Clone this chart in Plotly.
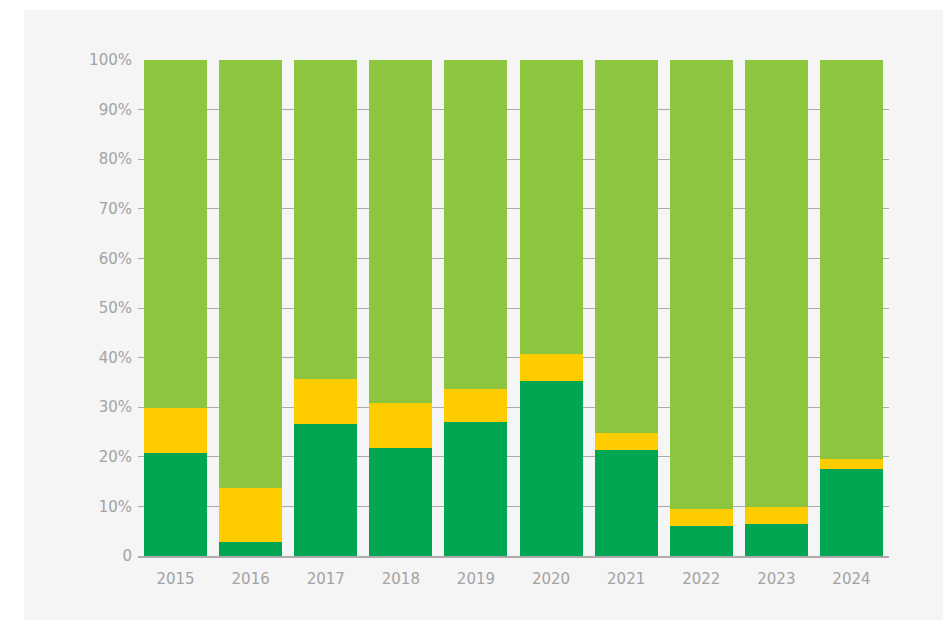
import plotly.graph_objects as go

# Share of each category per year (percent of total)
years = ["2015", "2016", "2017", "2018", "2019", "2020", "2021", "2022", "2023", "2024"]
dark_green = [20.8, 2.8, 26.7, 21.8, 27.0, 35.3, 21.4, 6.0, 6.5, 17.5]
yellow = [9.0, 11.0, 9.0, 9.0, 6.7, 5.4, 3.4, 3.5, 3.4, 2.1]
light_green = [round(100 - d - y, 1) for d, y in zip(dark_green, yellow)]

y_ticks = [0, 10, 20, 30, 40, 50, 60, 70, 80, 90, 100]
y_tick_labels = ["0"] + [f"{v}%" for v in y_ticks[1:]]

PANEL = "#f5f5f5"
GRID = "#ababab"
TEXT = "#a3a3a3"
FONT = "DejaVu Sans"

fig = go.Figure()
for name, vals, color in [
    ("A", dark_green, "#00a651"),
    ("B", yellow, "#ffcc00"),
    ("C", light_green, "#8cc63f"),
]:
    fig.add_trace(go.Bar(x=years, y=vals, name=name, marker_color=color,
                         marker_line_width=0, hoverinfo="skip"))

W, H = 943, 620
L, R, T, B = 138, 54, 60, 64
pw, ph = W - L - R, H - T - B

# light grey card behind the chart, leaving a thin white border top/left
fig.add_shape(type="rect", xref="paper", yref="paper", layer="below",
              x0=(24 - L) / pw, x1=(W - L) / pw,
              y0=-(B) / ph, y1=(H - B - 10) / ph,
              fillcolor=PANEL, line_width=0)

fig.update_layout(
    barmode="stack",
    bargap=0.16,
    width=W, height=H,
    margin=dict(l=L, r=R, t=T, b=B),
    paper_bgcolor="white",
    plot_bgcolor=PANEL,
    showlegend=False,
    font=dict(family=FONT, size=15, color=TEXT),
)
fig.update_xaxes(showgrid=False, showline=True, linecolor=GRID, linewidth=1.5,
                 ticks="", ticklabelstandoff=8,
                 tickfont=dict(family=FONT, size=15, color=TEXT))
fig.update_yaxes(range=[0, 100], tickvals=y_ticks, ticktext=y_tick_labels,
                 showgrid=True, gridcolor=GRID, gridwidth=1, zeroline=False,
                 ticks="", ticklabelstandoff=5,
                 tickfont=dict(family=FONT, size=15, color=TEXT))

fig.write_html("out.html")
